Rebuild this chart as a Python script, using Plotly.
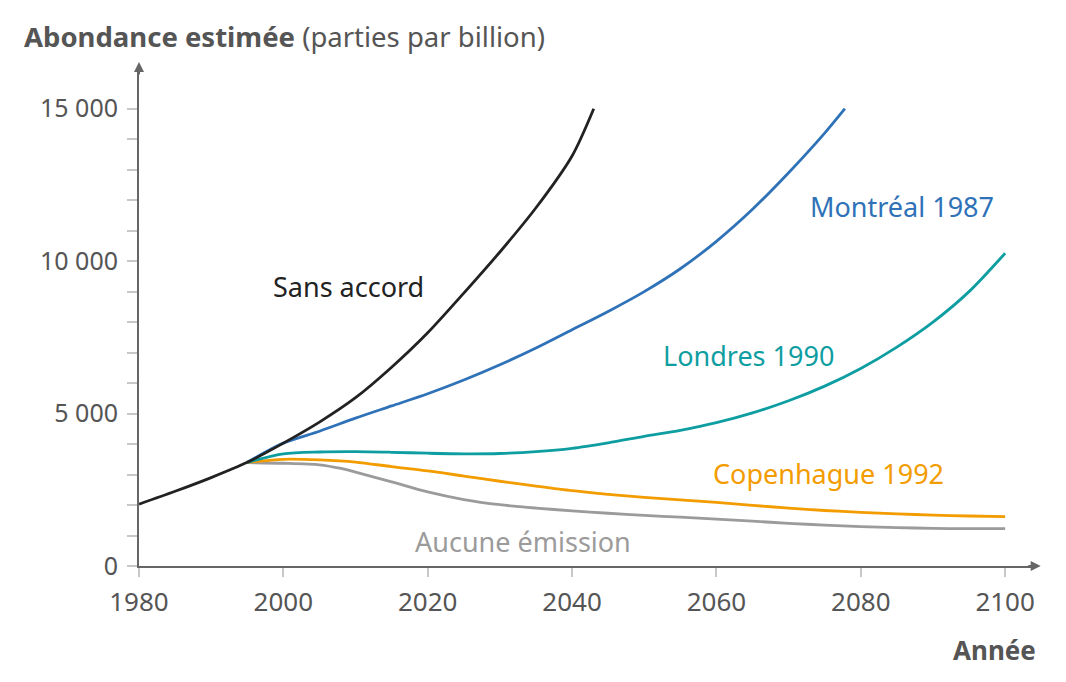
import plotly.graph_objects as go

# ── Data (ppb) ────────────────────────────────────────────────────────────────
base_years = [1980, 1985, 1990, 1995]
base_ppb   = [2030, 2450, 2900, 3400]

sans_years = [1995, 2000, 2005, 2010, 2015, 2020, 2025, 2030, 2035, 2040, 2043]
sans_ppb   = [3400, 4030, 4720, 5520, 6520, 7650, 8950, 10300, 11750, 13450, 15000]

montreal_years = [1995, 2000, 2005, 2010, 2015, 2020, 2025, 2030, 2035, 2040, 2045,
                  2050, 2055, 2060, 2065, 2070, 2075, 2077.8]
montreal_ppb   = [3400, 4030, 4420, 4850, 5250, 5650, 6100, 6600, 7150, 7750, 8350,
                  9000, 9750, 10650, 11700, 12900, 14200, 15000]

londres_years = [1995, 2000, 2005, 2010, 2015, 2020, 2025, 2030, 2035, 2040, 2045,
                 2050, 2055, 2060, 2065, 2070, 2075, 2080, 2085, 2090, 2095, 2100]
londres_ppb   = [3400, 3680, 3740, 3750, 3730, 3700, 3680, 3690, 3750, 3860, 4040,
                 4250, 4450, 4700, 5020, 5420, 5900, 6480, 7180, 8000, 9000, 10260]

copen_years = [1995, 2000, 2005, 2010, 2015, 2020, 2025, 2030, 2035, 2040, 2045,
               2050, 2055, 2060, 2065, 2070, 2075, 2080, 2085, 2090, 2095, 2100]
copen_ppb   = [3400, 3500, 3480, 3410, 3260, 3120, 2950, 2780, 2620, 2470, 2350,
               2250, 2170, 2090, 1990, 1900, 1820, 1760, 1710, 1670, 1640, 1620]

aucune_years = [1995, 2000, 2005, 2008, 2010, 2015, 2020, 2025, 2030, 2035, 2040,
                2045, 2050, 2055, 2060, 2065, 2070, 2075, 2080, 2085, 2090, 2095, 2100]
aucune_ppb   = [3390, 3370, 3320, 3200, 3080, 2760, 2430, 2180, 2010, 1900, 1810,
                1730, 1660, 1600, 1540, 1470, 1400, 1340, 1290, 1260, 1235, 1225, 1225]

x_ticks = [1980, 2000, 2020, 2040, 2060, 2080, 2100]
y_ticks = list(range(0, 15001, 1000))
y_ticktext = ["15 000" if v == 15000 else "10 000" if v == 10000 else
              "5 000" if v == 5000 else "0" if v == 0 else "" for v in y_ticks]

# ── Style ─────────────────────────────────────────────────────────────────────
FONT = "Noto Sans, Open Sans, sans-serif"
AXIS = "#666666"
TICK = "#c8c8c8"
TEXT = "#555555"

SERIES = [
    # (label, years, values, colour, label x, label y)
    ("Aucune émission", aucune_years, aucune_ppb, "#9b9b9b", 2018.0, 820),
    ("Copenhague 1992", copen_years, copen_ppb, "#f39c00", 2059.3, 3050),
    ("Londres 1990", londres_years, londres_ppb, "#0e9ea2", 2052.3, 6920),
    ("Montréal 1987", montreal_years, montreal_ppb, "#2f72b8", 2072.7, 11780),
    ("Sans accord", base_years + sans_years[1:], base_ppb + sans_ppb[1:], "#222222", 1998.3, 9160),
]

fig = go.Figure()

for label, xs, ys, colour, lx, ly in SERIES:
    fig.add_trace(go.Scatter(
        x=xs, y=ys, mode="lines", name=label,
        line=dict(color=colour, width=2.8, shape="spline", smoothing=0.8),
        hoverinfo="skip", showlegend=False,
    ))
    fig.add_annotation(
        x=lx, y=ly, text=label, showarrow=False, xanchor="left", yanchor="middle",
        font=dict(family=FONT, size=27, color=colour),
    )

# titles
fig.add_annotation(
    xref="paper", yref="paper", x=-0.131, y=1.058, xanchor="left", yanchor="middle",
    text="<b>Abondance estimée</b> (parties par billion)", showarrow=False,
    font=dict(family=FONT, size=27.5, color=TEXT),
)
fig.add_annotation(
    xref="paper", yref="paper", x=1.0045, y=-0.168, xanchor="right", yanchor="middle",
    text="<b>Année</b>", showarrow=False,
    font=dict(family=FONT, size=26, color=TEXT),
)

# axis arrowheads
fig.add_annotation(
    xref="paper", yref="paper", x=1.0075, y=0, ax=-14, ay=0, text="",
    showarrow=True, arrowhead=2, arrowsize=1, arrowwidth=2, arrowcolor=AXIS,
)
fig.add_annotation(
    xref="paper", yref="paper", x=0, y=1.008, ax=0, ay=14, text="",
    showarrow=True, arrowhead=2, arrowsize=1, arrowwidth=2, arrowcolor=AXIS,
)

fig.update_xaxes(
    range=[1980, 2104], tickvals=x_ticks, showgrid=False, zeroline=False,
    showline=True, linecolor=AXIS, linewidth=2,
    ticks="outside", ticklen=9, tickwidth=2, tickcolor=TICK,
    tickfont=dict(family=FONT, size=26, color=TEXT), ticklabelstandoff=3,
)
fig.update_yaxes(
    range=[0, 16400], tickvals=y_ticks, ticktext=y_ticktext, showgrid=False, zeroline=False,
    showline=True, linecolor=AXIS, linewidth=2,
    ticks="outside", ticklen=10, tickwidth=2, tickcolor=TICK,
    tickfont=dict(family=FONT, size=25, color=TEXT), ticklabelstandoff=4,
)

# the page body adds an 8px offset, so margins are shifted to compensate
fig.update_layout(
    width=1066, height=682,
    margin=dict(l=131, r=40, t=58, b=124),
    paper_bgcolor="white", plot_bgcolor="white",
    font=dict(family=FONT, color=TEXT),
)

fig.write_html("out.html")
